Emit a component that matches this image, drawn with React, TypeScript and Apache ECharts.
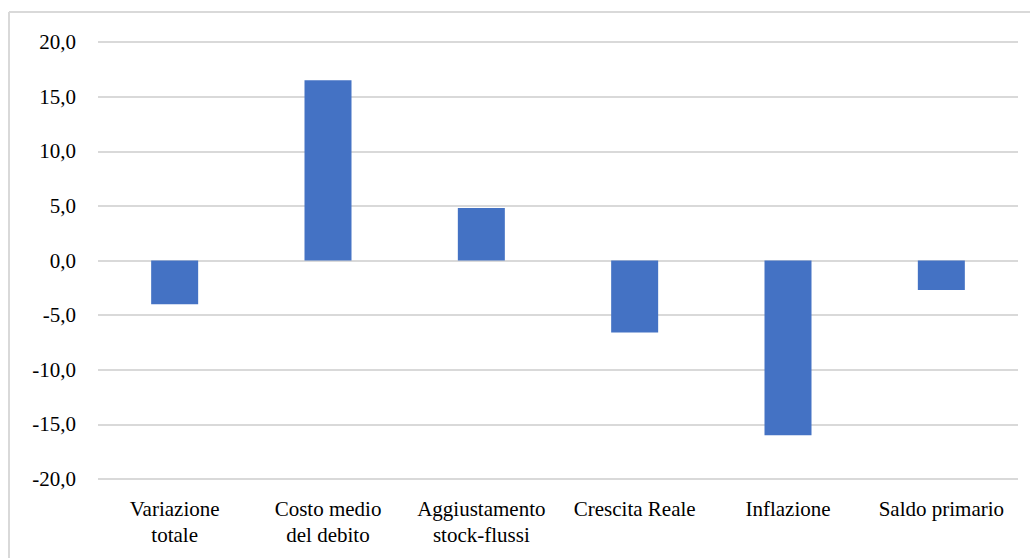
import React, { useEffect, useRef } from "react";
import * as echarts from "echarts";

const categories = [
  "Variazione\ntotale",
  "Costo medio\ndel debito",
  "Aggiustamento\nstock-flussi",
  "Crescita Reale",
  "Inflazione",
  "Saldo primario",
];
const values = [-4.0, 16.5, 4.8, -6.6, -16.0, -2.7];
const yMin = -20;
const yMax = 20;
const yStep = 5;

export default function App() {
  const ref = useRef<HTMLDivElement>(null);
  useEffect(() => {
    if (!ref.current) return;
    const chart = echarts.init(ref.current, undefined, { renderer: "svg" });
    const font = '"Liberation Serif", "DejaVu Serif", "Times New Roman", serif';
    chart.setOption({
      animation: false,
      backgroundColor: "#ffffff",
      textStyle: { fontFamily: font },
      grid: { left: 98, right: 12, top: 42, bottom: 79, containLabel: false },
      xAxis: {
        type: "category",
        data: categories,
        position: "bottom",
        axisLine: { show: false, onZero: false },
        axisTick: { show: false },
        axisLabel: {
          interval: 0,
          margin: 17,
          color: "#000000",
          fontFamily: font,
          fontStyle: "normal",
          fontSize: 21,
          lineHeight: 26,
        },
      },
      yAxis: {
        type: "value",
        min: yMin,
        max: yMax,
        interval: yStep,
        axisLine: { show: false },
        axisTick: { show: false },
        splitLine: { show: true, lineStyle: { color: "#d9d9d9", width: 2 } },
        axisLabel: {
          margin: 22,
          color: "#000000",
          fontFamily: font,
          fontSize: 21,
          formatter: (v: number) => v.toFixed(1).replace(".", ","),
        },
      },
      series: [
        {
          type: "bar",
          data: values,
          barWidth: 47,
          itemStyle: { color: "#4472C4" },
        },
      ],
      graphic: [
        {
          type: "line",
          shape: { x1: 9, y1: 12, x2: 1030, y2: 12 },
          style: { stroke: "#d9d9d9", lineWidth: 2 },
          silent: true,
        },
        {
          type: "line",
          shape: { x1: 9, y1: 12, x2: 9, y2: 558 },
          style: { stroke: "#d9d9d9", lineWidth: 2 },
          silent: true,
        },
      ],
    });
    return () => chart.dispose();
  }, []);
  return (
    <div
      ref={ref}
      style={{ position: "fixed", left: 0, top: 0, width: 1030, height: 558 }}
    />
  );
}
